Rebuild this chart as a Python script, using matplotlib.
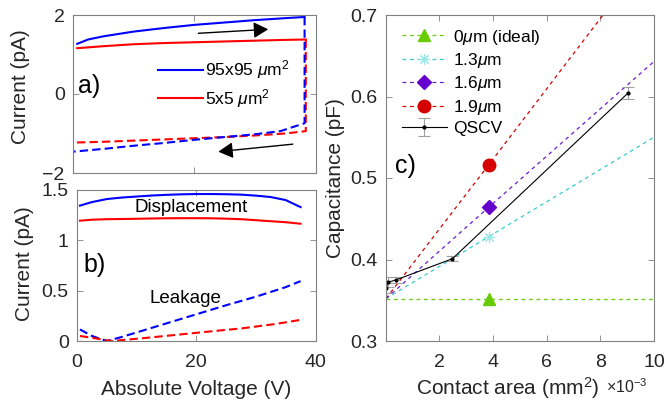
import matplotlib
matplotlib.use("Agg")
import matplotlib.pyplot as plt
import numpy as np

plt.rcParams['font.family'] = ['Liberation Sans', 'DejaVu Sans']
plt.rcParams['mathtext.fontset'] = 'custom'
plt.rcParams['mathtext.rm'] = 'Liberation Sans'
plt.rcParams['mathtext.it'] = 'Liberation Sans:italic'

# ---------------- data ----------------
# panel a: I-V sweeps
V_fwd_blue = [0.7, 2.5, 5, 10, 15, 20, 25, 30, 35, 38.2]
I_fwd_blue = [1.27, 1.38, 1.46, 1.58, 1.67, 1.75, 1.81, 1.87, 1.92, 1.95]
V_rev_blue = [38.2, 38.2, 36.4, 34.2, 30, 25, 20, 15, 10, 5, 0.0]
I_rev_blue = [1.95, -0.74, -0.83, -0.94, -1.02, -1.09, -1.16, -1.24, -1.31, -1.39, -1.46]
V_fwd_red = [0.7, 5, 10, 15, 20, 25, 30, 35, 38.4]
I_fwd_red = [1.16, 1.21, 1.26, 1.29, 1.31, 1.33, 1.35, 1.37, 1.38]
V_rev_red = [38.4, 38.4, 35, 30, 25, 20, 15, 10, 5, 0.0]
I_rev_red = [1.38, -0.94, -1.00, -1.05, -1.09, -1.12, -1.15, -1.18, -1.21, -1.23]

# panel b: displacement and leakage
V_b = [0.5, 2.5, 5, 7.5, 10, 12.5, 15, 17.5, 20, 22.5, 25, 27.5, 30, 32.5, 35, 37.5]
disp_blue = [1.345, 1.38, 1.41, 1.425, 1.435, 1.445, 1.452, 1.457, 1.46, 1.46,
             1.458, 1.454, 1.444, 1.43, 1.40, 1.33]
disp_red = [1.195, 1.205, 1.21, 1.212, 1.214, 1.217, 1.219, 1.22, 1.22, 1.219,
            1.215, 1.21, 1.20, 1.19, 1.18, 1.165]
V_leak = [0.5, 2.5, 5, 7.5, 10, 15, 20, 25, 30, 35, 37.5]
leak_blue = [0.115, 0.05, 0.0, 0.04, 0.085, 0.175, 0.265, 0.355, 0.44, 0.535, 0.595]
V_leak_r = [0.5, 3, 5.8, 10.9, 16.5, 22, 27.7, 33.3, 37.5]
leak_red = [0.05, 0.027, 0.0, 0.027, 0.06, 0.093, 0.126, 0.169, 0.21]

# panel c: capacitance vs contact area
model_area = [2.5e-5, 3.844e-3, 1.0e-2]
cap_0 = [0.352, 0.352, 0.352]
cap_13 = [0.352, 0.428, 0.550]
cap_16 = [0.352, 0.464, 0.643]
cap_19 = [0.352, 0.516, 0.782]
qscv_area = [2.5e-5, 1.0e-4, 4.0e-4, 2.5e-3, 9.025e-3]
qscv_cap = [0.365, 0.372, 0.375, 0.401, 0.604]
qscv_err = [0.006, 0.006, 0.004, 0.003, 0.0075]

# ---------------- figure ----------------
W, H = 665, 401
fig = plt.figure(figsize=(W / 100, H / 100), dpi=100)

def box(l, r, t, b):
    return [l / W, (H - b) / H, (r - l) / W, (b - t) / H]

axa = fig.add_axes(box(73, 315.5, 15, 173))
axb = fig.add_axes(box(77, 315.5, 190, 341))
axc = fig.add_axes(box(386, 654, 15, 341))

spine_c = '#808080'
text_c = '#262626'
for ax in (axa, axb, axc):
    for s in ax.spines.values():
        s.set_color(spine_c)
        s.set_linewidth(0.8)
    ax.tick_params(direction='in', length=4, width=0.6, color=spine_c,
                   labelcolor=text_c, labelsize=14, top=True, right=True, pad=6)

blue = '#0000ff'
red = '#ff0000'
lw = 1.5
dash = (0, (4, 2))

# panel a
la1, = axa.plot(V_fwd_blue, I_fwd_blue, color=blue, lw=lw)
la2, = axa.plot(V_fwd_red, I_fwd_red, color=red, lw=lw)
axa.plot(V_rev_red, I_rev_red, color=red, lw=lw, ls=dash)
axa.plot(V_rev_blue, I_rev_blue, color=blue, lw=lw, ls=dash)
axa.set_xlim(0, 40)
axa.set_ylim(-2, 2)
axa.set_xticks([0, 20, 40])
axa.set_xticklabels([])
axa.set_yticks([-2, 0, 2])
axa.set_ylabel('Current (pA)', fontsize=15, color=text_c, va='center')
axa.yaxis.set_label_coords((20.5 - 73) / 242.5, 0.546)
axa.text(0.021, 0.55, 'a)', transform=axa.transAxes, fontsize=18,
         ha='left', va='center', color='k')
arrow_kw = dict(arrowstyle='-|>,head_length=0.4,head_width=0.22', color='k',
                lw=1.0, mutation_scale=22, shrinkA=0, shrinkB=0)
axa.annotate('', xy=(32.2, 1.638), xytext=(20.67, 1.537), arrowprops=arrow_kw)
axa.annotate('', xy=(23.97, -1.46), xytext=(36.24, -1.27), arrowprops=arrow_kw)
axa.legend([la1, la2], ['95x95 $\\mu$m$^2$', '5x5 $\\mu$m$^2$'],
           loc='center left', bbox_to_anchor=(0.352, 0.563), frameon=False,
           fontsize=12.5, handlelength=2.6, handletextpad=0.1,
           labelspacing=0.3, borderpad=0, borderaxespad=0)

# panel b
axb.plot(V_b, disp_blue, color=blue, lw=lw)
axb.plot(V_b, disp_red, color=red, lw=lw)
axb.plot(V_leak, leak_blue, color=blue, lw=lw, ls=dash)
axb.plot(V_leak_r, leak_red, color=red, lw=lw, ls=dash)
axb.set_xlim(0, 40)
axb.set_ylim(0, 1.5)
axb.set_xticks([0, 20, 40])
axb.set_yticks([0, 0.5, 1, 1.5])
axb.set_yticklabels(['0', '0.5', '1', '1.5'])
axb.tick_params(axis='x', pad=9.5)
axb.set_ylabel('Current (pA)', fontsize=15, color=text_c, va='center')
axb.yaxis.set_label_coords((24.5 - 77) / 238.5, 0.515)
axb.set_xlabel('Absolute Voltage (V)', fontsize=15, color=text_c, va='baseline')
axb.xaxis.set_label_coords(0.5, -0.358)
axb.text(0.025, 0.503, 'b)', transform=axb.transAxes, fontsize=18,
         ha='left', va='center', color='k')
axb.text(19.1, 1.33, 'Displacement', fontsize=13.5, ha='center', va='center', color='k')
axb.text(18.25, 0.427, 'Leakage', fontsize=13.5, ha='center', va='center', color='k')

# panel c
green = '#66cc00'
cyan = '#33cccc'
purple = '#6a1ad8'
dred = '#d60000'
dot = (0, (3, 3))
l0, = axc.plot(model_area, cap_0, color=green, lw=0.9, ls=dot, marker='^',
               markersize=9, markevery=[1], markerfacecolor=green, markeredgecolor=green)
l1, = axc.plot(model_area, cap_13, color=cyan, lw=0.9, ls=dot, marker=(8, 2, 0),
               markersize=8, markevery=[1], markeredgecolor='#9ae6e6', markeredgewidth=0.8)
l2, = axc.plot(model_area, cap_16, color=purple, lw=0.9, ls=dot, marker='D',
               markersize=7, markevery=[1], markerfacecolor='#6600cc', markeredgecolor='#6600cc')
l3, = axc.plot(model_area, cap_19, color=dred, lw=0.9, ls=dot, marker='o',
               markersize=9, markevery=[1], markerfacecolor=dred, markeredgecolor=dred)
eb = axc.errorbar(qscv_area, qscv_cap, yerr=qscv_err, color='k', lw=0.8,
                  marker='.', markersize=4, ecolor='#a0a0a0', elinewidth=0.8,
                  capsize=4, capthick=0.8)
axc.set_xlim(2.5e-5, 1.0e-2)
axc.set_ylim(0.3, 0.7)
axc.set_xticks([0.002, 0.004, 0.006, 0.008, 0.010])
axc.set_xticklabels(['2', '4', '6', '8', '10'])
axc.set_yticks([0.3, 0.4, 0.5, 0.6, 0.7])
axc.tick_params(axis='x', pad=9.5)
axc.set_ylabel('Capacitance (pF)', fontsize=15, color=text_c, va='center')
axc.yaxis.set_label_coords((335.7 - 386) / 268, 0.5)
axc.set_xlabel('Contact area (mm$^2$)', fontsize=15, color=text_c, va='baseline')
axc.xaxis.set_label_coords((507.5 - 386) / 268, -0.1656)
axc.text((606 - 386) / 268, -0.160, '\u00d710$^{-3}$', transform=axc.transAxes,
         fontsize=11.5, ha='left', va='baseline', color=text_c)
axc.text(0.034, 0.537, 'c)', transform=axc.transAxes, fontsize=18,
         ha='left', va='center', color='k')
axc.legend([l0, l1, l2, l3, eb],
           ['0$\\mu$m (ideal)', '1.3$\\mu$m', '1.6$\\mu$m', '1.9$\\mu$m', 'QSCV'],
           loc='center left', bbox_to_anchor=(0.0586, 0.795), frameon=False,
           fontsize=12.5, handlelength=2.6, handletextpad=0.35,
           labelspacing=0.25, borderpad=0, borderaxespad=0)

fig.savefig('out.png', dpi=100)
